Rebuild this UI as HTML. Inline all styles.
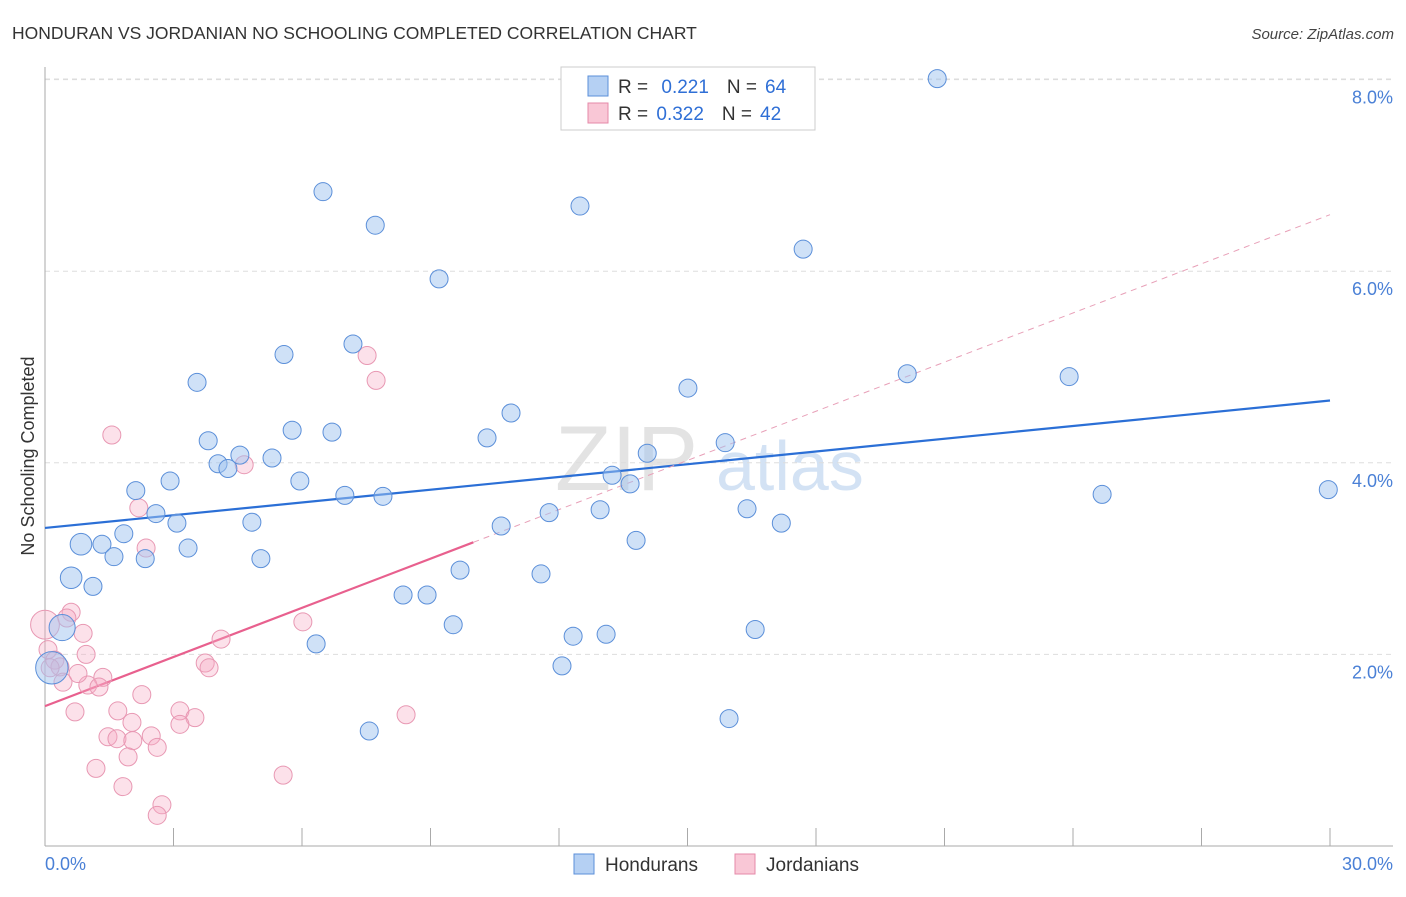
<!DOCTYPE html>
<html><head><meta charset="utf-8"><style>
body{margin:0;background:#fff;font-family:"Liberation Sans",sans-serif;}
svg text{font-family:"Liberation Sans",sans-serif;}
</style></head><body>
<svg id="chart" width="1406" height="892" viewBox="0 0 1406 892" xmlns="http://www.w3.org/2000/svg">
<text x="12" y="39" font-size="17.5" fill="#333">HONDURAN VS JORDANIAN NO SCHOOLING COMPLETED CORRELATION CHART</text>
<text x="1394" y="39" font-size="15" fill="#444" text-anchor="end" font-style="italic">Source: ZipAtlas.com</text>
<g>
<text x="555" y="490" font-size="92" fill="#ddd" font-family="Liberation Serif" opacity="0.8">ZIP</text>
<text x="716" y="490" font-size="70" fill="#c9dcf2" opacity="0.8">atlas</text>
</g>
<g id="grid"></g>
<g id="axes"></g>
<g id="lines"></g>
<g id="points"></g>
<text transform="translate(34,456) rotate(-90)" font-size="18" fill="#333" text-anchor="middle">No Schooling Completed</text>
<g>
<rect x="561" y="67" width="254" height="63" fill="#fff" stroke="#ccc"/>
<rect x="588" y="76" width="20" height="20" fill="#b5d0f3" stroke="#5b8fd9"/>
<rect x="588" y="103" width="20" height="20" fill="#f9c7d6" stroke="#e58aa8"/>
<text x="618" y="93" font-size="19" fill="#333">R = <tspan fill="#2f6fd6" dx="8">0.221</tspan><tspan dx="18" fill="#333">N =</tspan><tspan fill="#2f6fd6" dx="8">64</tspan></text>
<text x="618" y="120" font-size="19" fill="#333">R = <tspan fill="#2f6fd6" dx="3">0.322</tspan><tspan dx="18" fill="#333">N =</tspan><tspan fill="#2f6fd6" dx="8">42</tspan></text>
</g>
<g>
<rect x="574" y="854" width="20" height="20" fill="#b5d0f3" stroke="#5b8fd9"/>
<text x="605" y="871" font-size="19" fill="#333">Hondurans</text>
<rect x="735" y="854" width="20" height="20" fill="#f9c7d6" stroke="#e58aa8"/>
<text x="766" y="871" font-size="19" fill="#333">Jordanians</text>
</g>
</svg>
<script>
const blueX=[20.83,6.49,7.71,12.49,17.70,9.20,5.58,7.19,3.55,20.13,23.91,15.01,10.88,5.77,6.70,3.81,10.32,15.88,4.55,5.30,4.04,4.27,14.06,13.24,13.66,2.92,5.95,2.12,7.00,7.89,24.68,29.96,2.59,3.08,4.83,16.39,11.77,12.96,17.19,10.65,1.84,0.84,1.33,3.34,1.61,2.34,5.04,13.80,0.61,1.12,9.69,11.58,8.36,8.92,9.53,0.40,12.33,13.10,16.58,6.33,12.07,0.16,15.97,7.57];
const blueY=[8.01,6.83,6.48,6.68,6.23,5.92,5.13,5.24,4.84,4.93,4.90,4.78,4.52,4.34,4.32,4.23,4.26,4.21,4.08,4.05,3.99,3.94,4.10,3.87,3.78,3.81,3.81,3.71,3.66,3.65,3.67,3.72,3.47,3.37,3.38,3.52,3.48,3.51,3.37,3.34,3.26,3.15,3.15,3.11,3.02,3.00,3.00,3.19,2.80,2.71,2.88,2.84,2.62,2.62,2.31,2.28,2.19,2.21,2.26,2.11,1.88,1.86,1.33,1.20];
const blueSize=[1,1,1,1,1,1,1,1,1,1,1,1,1,1,1,1,1,1,1,1,1,1,1,1,1,1,1,1,1,1,1,1,1,1,1,1,1,1,1,1,1,1.2,1,1,1,1,1,1,1.2,1,1,1,1,1,1,1.45,1,1,1,1,1,1.8,1,1];
const pinkX=[1.56,4.65,2.19,2.36,7.52,7.73,0.61,0.51,0,0.89,0.07,0.23,0.35,0.12,0.96,1.35,1.00,1.26,0.77,0.42,4.11,6.02,3.74,3.83,2.26,0.70,1.70,3.15,3.50,3.15,2.03,1.47,1.68,2.48,2.05,2.62,1.94,1.19,8.43,1.82,2.73,2.62,5.56];
const pinkY=[4.29,3.98,3.53,3.11,5.12,4.86,2.44,2.38,2.31,2.22,2.05,1.94,1.87,1.86,2.00,1.76,1.68,1.66,1.80,1.71,2.16,2.34,1.91,1.86,1.58,1.40,1.41,1.41,1.34,1.27,1.29,1.14,1.12,1.15,1.10,1.03,0.93,0.81,1.37,0.62,0.43,0.32,0.74];
const pinkSize=[1,1,1,1,1,1,1,1,1.6,1,1,1,1,1,1,1,1,1,1,1,1,1,1,1,1,1,1,1,1,1,1,1,1,1,1,1,1,1,1,1,1,1,1];
const yTicks=[2,4,6,8];
const yTickLabels=["2.0%","4.0%","6.0%","8.0%"];
const xTicks=[0,3,6,9,12,15,18,21,24,27,30];
const blueTrend=[3.32,4.65];
const pinkTrend=[1.46,6.59];
const pinkSolidEnd=10;

const NS="http://www.w3.org/2000/svg";
const X0=45,X1=1330,Y0=846,PXY=95.8;
const sx=v=>X0+(X1-X0)*v/30;
const sy=v=>Y0-v*PXY;
function mk(tag,attrs,parent){const e=document.createElementNS(NS,tag);for(const k in attrs)e.setAttribute(k,attrs[k]);parent.appendChild(e);return e;}
const grid=document.getElementById('grid'),axes=document.getElementById('axes'),lines=document.getElementById('lines'),pts=document.getElementById('points');
yTicks.forEach((t,i)=>{
  const l=mk('line',{x1:X0,x2:1393,y1:sy(t),y2:sy(t),stroke:'#ddd','stroke-dasharray':'5,4'},grid);
  
  
  const tx=mk('text',{x:1393,y:sy(t)+24,'font-size':18,fill:'#4a80d6','text-anchor':'end'},axes);
  tx.textContent=yTickLabels[i];
  
  
});
const topGrid=mk('line',{x1:X0,x2:1393,y1:79,y2:79,stroke:'#ddd','stroke-dasharray':'5,4'},grid);


const ya=mk('line',{x1:X0,x2:X0,y1:67,y2:Y0,stroke:'#aaa'},axes);


const xa=mk('line',{x1:X0,x2:1393,y1:Y0,y2:Y0,stroke:'#aaa'},axes);


xTicks.forEach(t=>{
  const l=mk('line',{x1:sx(t),x2:sx(t),y1:828,y2:Y0,stroke:'#aaa'},axes);
  
  
});
const xl0=mk('text',{x:45,y:870,'font-size':18,fill:'#4a80d6'},axes);xl0.textContent=xTicks[0].toFixed(1)+'%';


const xl1=mk('text',{x:1393,y:870,'font-size':18,fill:'#4a80d6','text-anchor':'end'},axes);xl1.textContent=xTicks[xTicks.length-1].toFixed(1)+'%';



pinkX.forEach((x,i)=>{
  const c=mk('circle',{cx:sx(x),cy:sy(pinkY[i]),r:9*pinkSize[i],fill:'rgba(245,170,195,0.35)',stroke:'#e898b3','stroke-width':1},pts);
  
  
});
blueX.forEach((x,i)=>{
  const c=mk('circle',{cx:sx(x),cy:sy(blueY[i]),r:9*blueSize[i],fill:'rgba(160,196,240,0.5)',stroke:'#5b8fd9','stroke-width':1},pts);
  
  
});
const pAt=x=>pinkTrend[0]+(pinkTrend[1]-pinkTrend[0])*x/30;
const bl=mk('line',{x1:sx(0),y1:sy(blueTrend[0]),x2:sx(30),y2:sy(blueTrend[1]),stroke:'#2b6fd6','stroke-width':2.2},lines);


const ps=mk('line',{x1:sx(0),y1:sy(pAt(0)),x2:sx(pinkSolidEnd),y2:sy(pAt(pinkSolidEnd)),stroke:'#e8608e','stroke-width':2.2},lines);


const pd=mk('line',{x1:sx(pinkSolidEnd),y1:sy(pAt(pinkSolidEnd)),x2:sx(30),y2:sy(pAt(30)),stroke:'#e8a0b8','stroke-width':1,'stroke-dasharray':'6,5'},lines);


</script>
</body></html>
